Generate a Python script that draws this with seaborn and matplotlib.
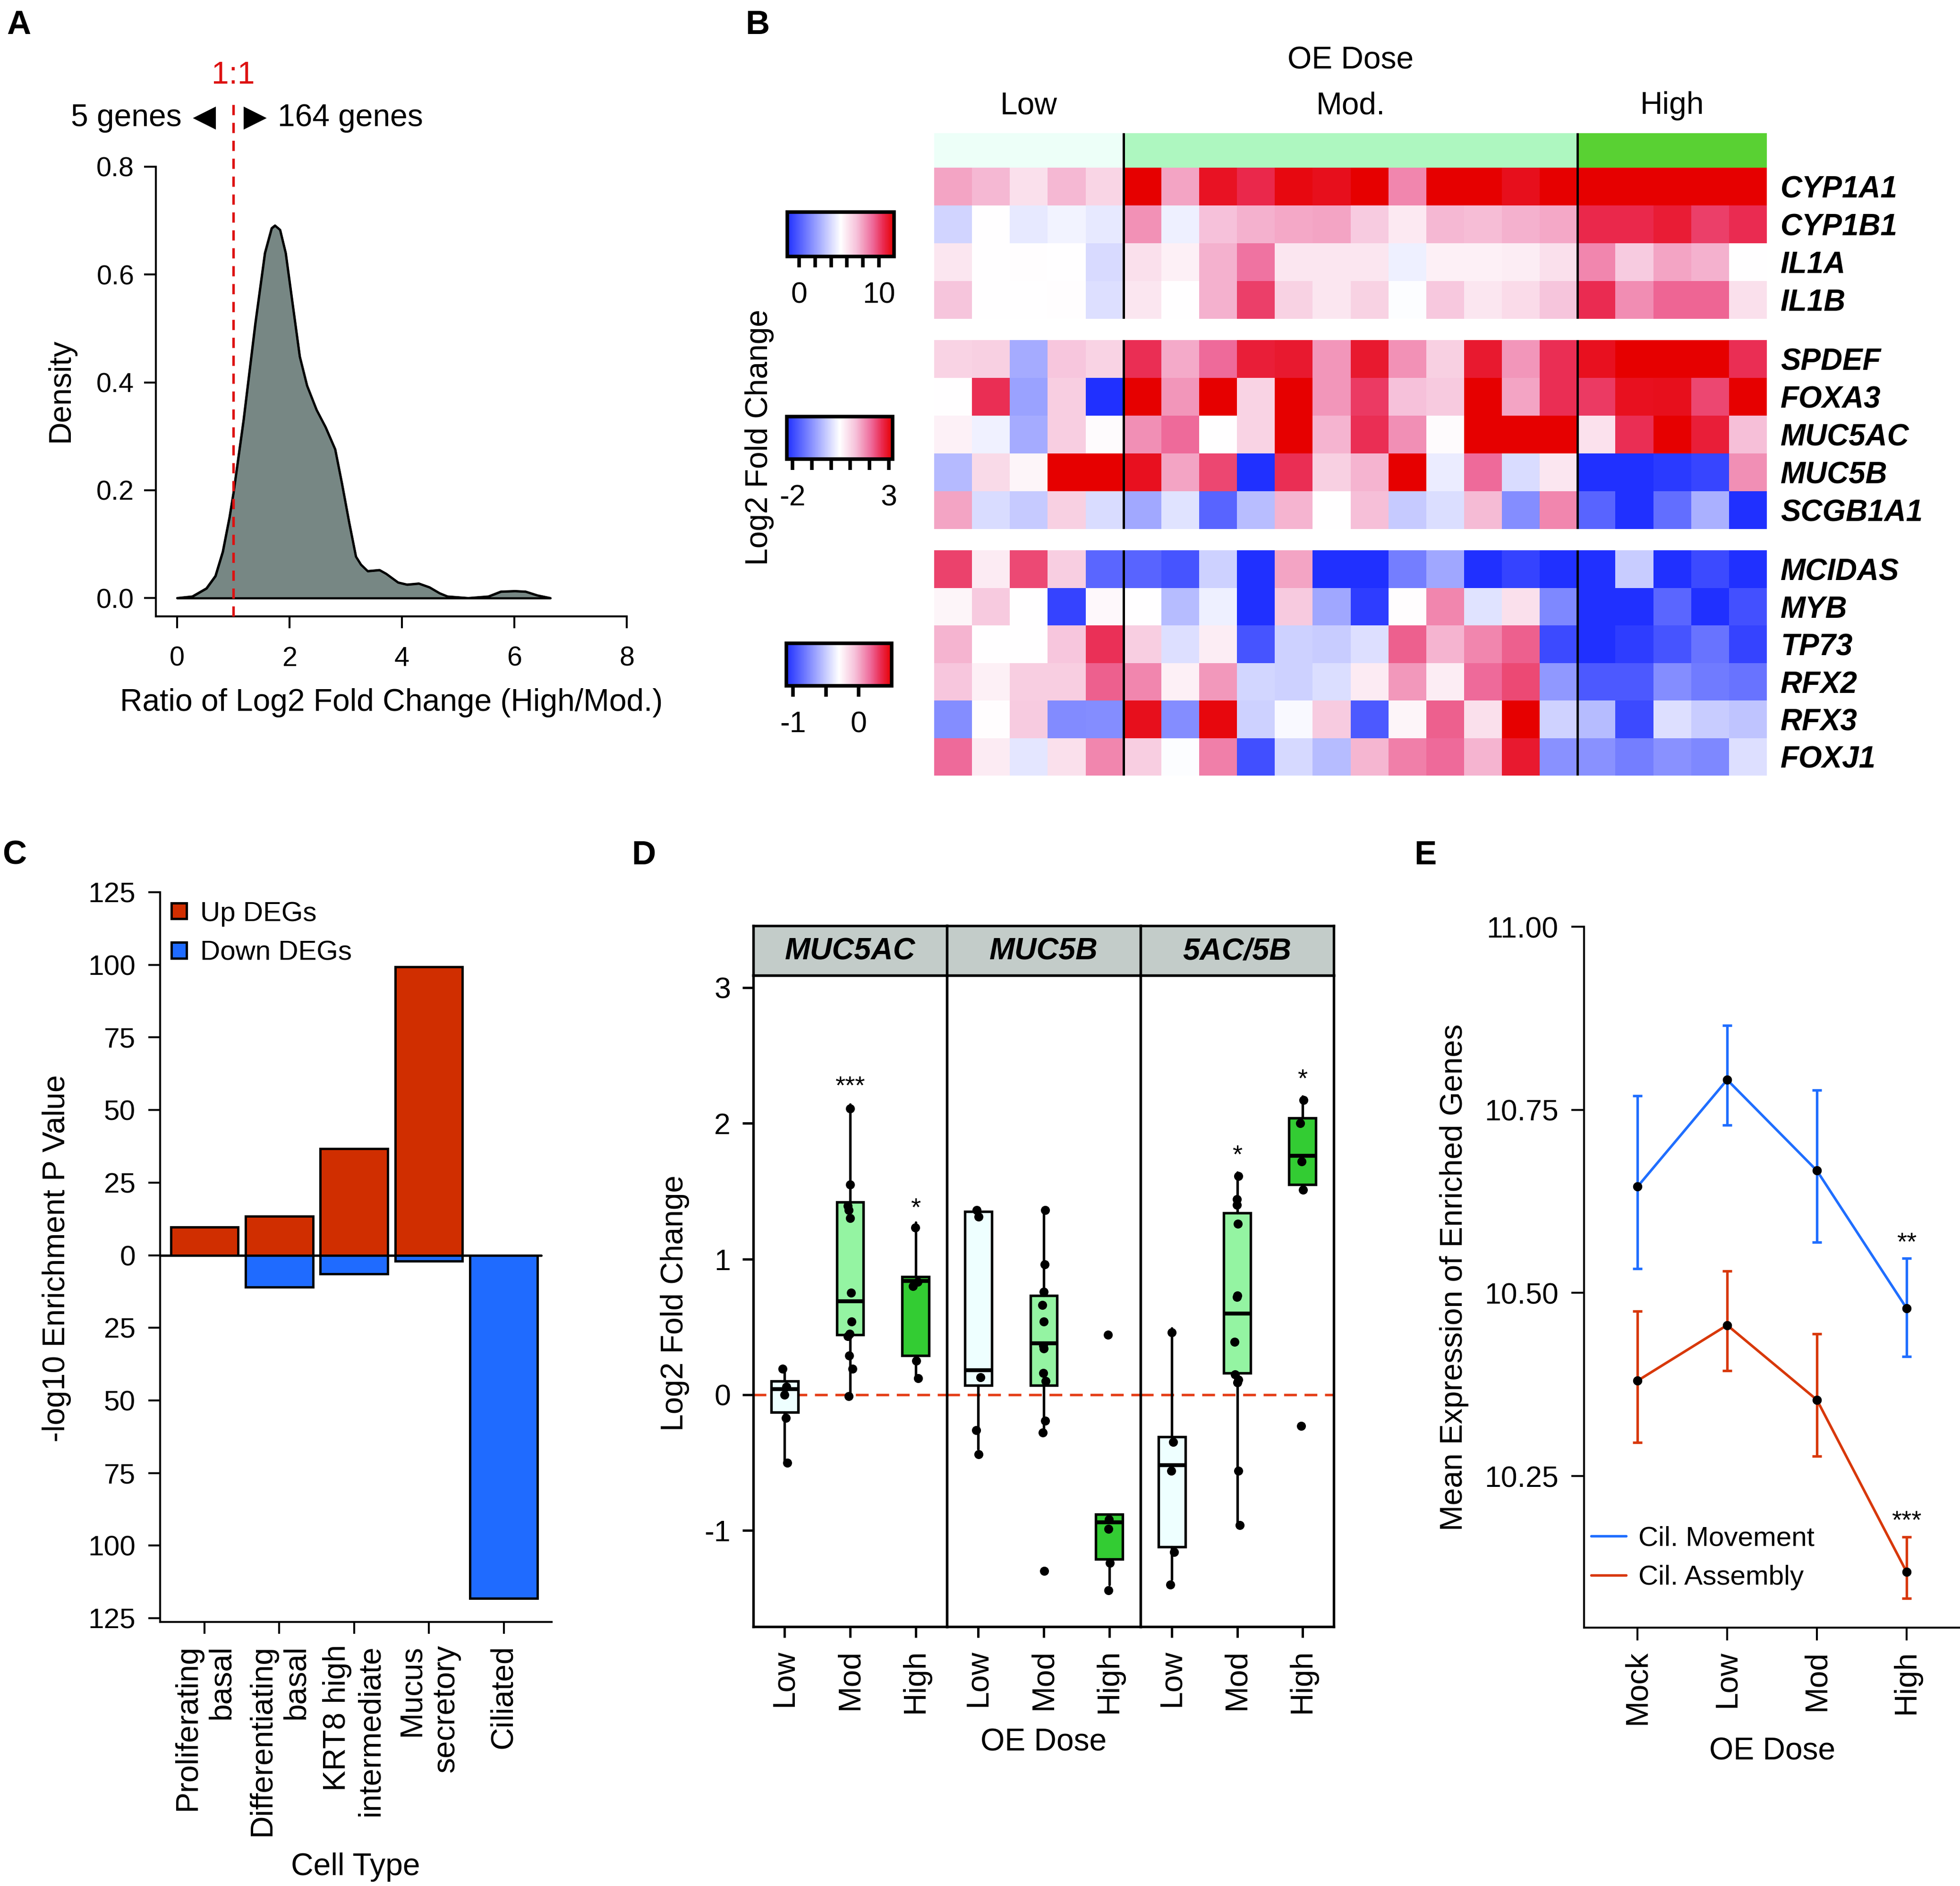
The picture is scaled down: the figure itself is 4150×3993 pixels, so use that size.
import numpy as np
import pandas as pd
import matplotlib
matplotlib.use("Agg")
import matplotlib.pyplot as plt
import seaborn as sns
from matplotlib.colors import LinearSegmentedColormap, ListedColormap

# ------------------------------------------------------------------ data
# Panel A : density of ratio of log2 fold change (High/Mod.)
ratio_x = [0.0, 0.27, 0.52, 0.68, 0.81, 0.93, 1.0, 1.18, 1.39, 1.56, 1.68, 1.74, 1.83,
           1.93, 2.06, 2.18, 2.31, 2.48, 2.64, 2.81, 2.93, 3.06, 3.18, 3.27, 3.39, 3.6,
           3.72, 3.93, 4.09, 4.3, 4.49, 4.67, 4.81, 5.18, 5.54, 5.76, 6.01, 6.2, 6.41, 6.64]
ratio_density = [0.0, 0.003, 0.018, 0.041, 0.086, 0.15, 0.195, 0.33, 0.51, 0.64, 0.686, 0.691,
                 0.683, 0.64, 0.54, 0.448, 0.394, 0.349, 0.317, 0.276, 0.213, 0.14, 0.077,
                 0.062, 0.05, 0.052, 0.045, 0.029, 0.025, 0.027, 0.02, 0.009, 0.003, 0.0,
                 0.003, 0.012, 0.013, 0.012, 0.005, 0.0]
n_below, n_above = 5, 164

# Panel B : heatmap
sample_dose = ["Low", "Low", "Low", "Low", "Low",
               "Mod", "Mod", "Mod", "Mod", "Mod", "Mod", "Mod", "Mod", "Mod", "Mod", "Mod", "Mod",
               "High", "High", "High", "High", "High"]
dose_colors = {"Low": "#EDFFF8", "Mod": "#AEF7C0", "High": "#59D133"}
genes_g1 = ["CYP1A1", "CYP1B1", "IL1A", "IL1B"]
lfc_g1 = [
    [7.9, 7.4, 6.2, 7.4, 6.6, 11.9, 7.9, 11.3, 10.6, 11.6, 11.4, 11.9, 8.6, 11.9, 11.9, 11.4, 11.9, 11.9, 11.9, 11.9, 11.9, 11.9],
    [3.8, 5.2, 4.5, 4.8, 4.5, 8.3, 4.7, 7.2, 7.6, 7.8, 7.9, 6.9, 5.9, 7.4, 7.3, 7.6, 7.8, 10.6, 10.6, 11.0, 10.1, 10.5],
    [6.0, 5.2, 5.3, 5.2, 4.0, 6.2, 5.7, 7.6, 9.0, 6.0, 6.0, 6.0, 4.7, 5.7, 5.7, 5.8, 6.2, 8.6, 6.9, 7.9, 7.6, 5.2],
    [7.1, 5.2, 5.2, 5.3, 4.2, 6.0, 5.2, 7.6, 10.1, 6.7, 6.0, 6.7, 5.1, 7.0, 6.0, 6.4, 7.1, 10.5, 8.4, 9.3, 9.3, 6.2],
]
genes_g2 = ["SPDEF", "FOXA3", "MUC5AC", "MUC5B", "SCGB1A1"]
lfc_g2 = [
    [1.05, 1.08, -0.65, 1.22, 1.05, 2.6, 1.5, 2.1, 2.8, 2.87, 1.69, 2.87, 1.72, 1.08, 2.87, 1.69, 2.6, 2.98, 3.2, 3.2, 3.2, 2.6],
    [0.45, 2.6, -0.79, 1.11, -2.3, 3.2, 1.69, 3.2, 1.05, 3.2, 1.69, 2.5, 1.28, 1.17, 3.2, 1.55, 2.6, 2.5, 2.98, 3.0, 2.4, 3.2],
    [0.64, 0.26, -0.65, 1.11, 0.5, 1.74, 2.1, 0.45, 1.05, 3.2, 1.41, 2.6, 1.74, 0.5, 3.2, 3.2, 3.2, 0.84, 2.6, 3.2, 2.8, 1.3],
    [-0.46, 0.95, 0.59, 3.2, 3.2, 2.98, 1.55, 2.4, -2.3, 2.6, 1.08, 1.41, 3.2, 0.2, 2.1, -0.02, 0.78, -2.3, -2.3, -2.16, -2.0, 1.74],
    [1.55, -0.02, -0.24, 1.08, -0.02, -0.7, 0.07, -1.61, -0.43, 1.41, 0.45, 1.3, -0.24, 0.01, 1.35, -1.06, 1.83, -1.61, -2.3, -1.48, -0.6, -2.3],
]
genes_g3 = ["MCIDAS", "MYB", "TP73", "RFX2", "RFX3", "FOXJ1"]
lfc_g3 = [
    [0.28, -0.22, 0.26, -0.11, -0.89, -0.9, -0.96, -0.48, -1.1, 0.02, -1.1, -1.1, -0.8, -0.64, -1.1, -1.02, -1.1, -1.1, -0.5, -1.1, -1.0, -1.1],
    [-0.26, -0.09, -0.3, -1.02, -0.27, -0.3, -0.56, -0.36, -1.1, -0.09, -0.64, -1.05, -0.29, 0.1, -0.41, -0.18, -0.76, -1.1, -1.1, -0.89, -1.1, -0.97],
    [-0.02, -0.3, -0.3, -0.08, 0.32, -0.11, -0.42, -0.23, -0.96, -0.48, -0.5, -0.42, 0.2, -0.02, 0.1, 0.2, -1.0, -1.1, -1.05, -0.96, -0.84, -1.02],
    [-0.08, -0.24, -0.11, -0.11, 0.2, 0.1, -0.24, 0.05, -0.46, -0.48, -0.43, -0.22, 0.05, -0.23, 0.18, 0.26, -0.7, -0.94, -0.94, -0.74, -0.81, -0.84],
    [-0.74, -0.29, -0.1, -0.75, -0.74, 0.44, -0.74, 0.47, -0.48, -0.32, -0.1, -0.94, -0.26, 0.2, -0.18, 0.5, -0.47, -0.56, -1.0, -0.42, -0.5, -0.53],
    [0.18, -0.22, -0.4, -0.18, 0.1, -0.11, -0.31, 0.12, -0.98, -0.45, -0.56, -0.03, 0.12, 0.18, -0.02, 0.4, -0.72, -0.72, -0.8, -0.72, -0.76, -0.42],
]
cbar_range_g1 = (-1.5, 11.9)
cbar_range_g2 = (-2.3, 3.2)
cbar_range_g3 = (-1.1, 0.5)
cbar_ticks_g1 = [0, 2, 4, 6, 8, 10]
cbar_ticks_g2 = [-2, -1, 0, 1, 2, 3]
cbar_ticks_g3 = [-1, -0.5, 0]
cbar_labels_g1 = ["0", "", "", "", "", "10"]
cbar_labels_g2 = ["-2", "", "", "", "", "3"]
cbar_labels_g3 = ["-1", "", "0"]

# Panel C : cell-type enrichment
cell_types = ["Proliferating\nbasal", "Differentiating\nbasal", "KRT8 high\nintermediate",
              "Mucus\nsecretory", "Ciliated"]
up_deg_score = [9.6, 13.5, 36.7, 99.3, 0.0]
down_deg_score = [0.0, 11.0, 6.5, 2.1, 118.2]

# Panel D : box plots (box stats + points)
facet_genes = ["MUC5AC", "MUC5B", "5AC/5B"]
dose_levels = ["Low", "Mod", "High"]
# box stats: [whisker_low, q1, median, q3, whisker_high] for Low, Mod, High
box_muc5ac = [[-0.50, -0.13, 0.04, 0.10, 0.20], [0.00, 0.44, 0.69, 1.42, 2.14], [0.12, 0.29, 0.84, 0.87, 1.27]]
box_muc5b = [[-0.40, 0.07, 0.18, 1.35, 1.38], [-0.28, 0.07, 0.38, 0.73, 1.38], [-1.40, -1.21, -0.94, -0.88, -0.88]]
box_ratio = [[-1.36, -1.12, -0.52, -0.31, 0.49], [-0.94, 0.16, 0.60, 1.34, 1.64], [1.55, 1.55, 1.76, 2.04, 2.20]]
pts_muc5ac = {"Low": [0.19, 0.06, 0.0, -0.17, -0.50],
              "Mod": [2.11, 1.55, 1.39, 1.36, 1.30, 0.75, 0.54, 0.45, 0.43, 0.29, 0.19, -0.01],
              "High": [1.23, 0.83, 0.80, 0.25, 0.12]}
pts_muc5b = {"Low": [1.36, 1.31, 0.13, -0.26, -0.44],
             "Mod": [1.36, 0.96, 0.76, 0.66, 0.54, 0.36, 0.34, 0.16, 0.10, -0.19, -0.28, -1.30],
             "High": [0.44, -0.92, -0.99, -1.24, -1.44]}
pts_ratio = {"Low": [0.46, -0.35, -0.56, -1.16, -1.40],
             "Mod": [1.61, 1.44, 1.40, 1.26, 0.73, 0.72, 0.39, 0.15, 0.11, 0.09, -0.56, -0.96],
             "High": [2.17, 2.00, 1.72, 1.51, -0.23]}
stars_muc5ac = [("Mod", 2.27, "***"), ("High", 1.37, "*")]
stars_muc5b = []
stars_ratio = [("Mod", 1.76, "*"), ("High", 2.32, "*")]
box_fill = {"Low": "#EEFFFF", "Mod": "#94F4A2", "High": "#33CC33"}

# Panel E : mean expression of enriched genes
doses_E = ["Mock", "Low", "Mod", "High"]
movement_mean = [10.645, 10.791, 10.667, 10.479]
movement_lo = [10.533, 10.729, 10.569, 10.413]
movement_hi = [10.769, 10.865, 10.777, 10.547]
assembly_mean = [10.380, 10.456, 10.354, 10.119]
assembly_lo = [10.296, 10.394, 10.277, 10.083]
assembly_hi = [10.475, 10.530, 10.444, 10.167]
stars_E = [("High", 10.568, "**"), ("High", 10.188, "***")]

# ------------------------------------------------------------------ style
sns.set_theme(style="ticks")
plt.rcParams.update({
    "font.family": ["Liberation Sans", "DejaVu Sans"],
    "axes.unicode_minus": False,
    "axes.linewidth": 1.0,
    "axes.edgecolor": "black",
    "xtick.color": "black", "ytick.color": "black",
    "xtick.major.width": 1.0, "ytick.major.width": 1.0,
    "text.color": "black", "axes.labelcolor": "black",
})

W, H = 4150, 3993
fig = plt.figure(figsize=(W / 300, H / 300), dpi=300)


def rect(x0, y0, x1, y1):
    return [x0 / W, 1 - y1 / H, (x1 - x0) / W, (y1 - y0) / H]


def fxy(x, y):
    return x / W, 1 - y / H


TICK = 14.5
LAB = 15.8

# panel letters
for letter, (px, py) in zip("ABCDE", [(14, 21), (1578, 21), (5, 1779), (1337, 1779), (2994, 1779)]):
    fig.text(*fxy(px, py), letter, fontsize=17, fontweight="bold", ha="left", va="top")

# ------------------------------------------------------------------ Panel A
axA = fig.add_axes(rect(330, 353, 1327, 1305))
axA.fill_between(ratio_x, ratio_density, 0, facecolor="#778784", edgecolor="black", lw=1.1, zorder=2)
sns.lineplot(x=ratio_x, y=ratio_density, ax=axA, color="black", lw=1.1, sort=False, zorder=3)
axA.set_xlim(-0.38, 8)
axA.set_ylim(-0.034, 0.8)
sns.despine(ax=axA)
axA.set_xticks([0, 2, 4, 6, 8])
axA.set_yticks([0, 0.2, 0.4, 0.6, 0.8])
axA.set_yticklabels(["0.0", "0.2", "0.4", "0.6", "0.8"])
axA.tick_params(axis="both", length=6, width=1, labelsize=13.8)
axA.tick_params(axis="x", pad=9)
axA.tick_params(axis="y", pad=5)
axA.set_xlabel("Ratio of Log2 Fold Change (High/Mod.)", fontsize=LAB)
axA.set_ylabel("Density", fontsize=LAB)
axA.xaxis.label.set_va("center")
axA.yaxis.label.set_va("center")
axA.xaxis.set_label_coords(0.50, -0.192)
axA.yaxis.set_label_coords(-0.2016, 0.503)
axA.plot([1, 1], [-0.034, 0.925], ls=(0, (4, 3)), color="#DD1111", lw=1.3, clip_on=False, zorder=4)
axA.text(1, 0.969, "1:1", color="#DD1111", ha="center", va="center", fontsize=LAB, clip_on=False)
axA.plot([0.49], [0.89], marker="<", ms=10, color="black", clip_on=False)
axA.plot([1.38], [0.89], marker=">", ms=10, color="black", clip_on=False)
axA.text(0.08, 0.89, f"{n_below} genes", ha="right", va="center", fontsize=LAB, clip_on=False)
axA.text(1.79, 0.89, f"{n_above} genes", ha="left", va="center", fontsize=LAB, clip_on=False)

# ------------------------------------------------------------------ Panel B
cmap = LinearSegmentedColormap.from_list(
    "bwr_pink", [(0.0, "#2030FF"), (0.5, "#FFFFFF"), (0.65, "#F6C2DA"),
                 (0.8, "#EE6A9A"), (0.9, "#EA2A50"), (1.0, "#E60000")])
HX0, HX1 = 1978, 3741
dose_order = ["Low", "Mod", "High"]
dose_codes = np.array([[dose_order.index(d) for d in sample_dose]])
axAnn = fig.add_axes(rect(HX0, 282, HX1, 355))
sns.heatmap(dose_codes, ax=axAnn, cmap=ListedColormap([dose_colors[d] for d in dose_order]),
            vmin=-0.5, vmax=2.5, cbar=False, xticklabels=False, yticklabels=False)
bounds = [sample_dose.count("Low"), sample_dose.count("Low") + sample_dose.count("Mod")]
for b in bounds:
    axAnn.axvline(b, color="black", lw=1.2)

n_samples = len(sample_dose)
lowc = (0 + bounds[0]) / 2
modc = (bounds[0] + bounds[1]) / 2
highc = (bounds[1] + n_samples) / 2
col_w = (HX1 - HX0) / n_samples
for c, lab in [(lowc, "Low"), (modc, "Mod."), (highc, "High")]:
    fig.text(*fxy(HX0 + c * col_w, 224), lab, ha="center", va="center", fontsize=LAB)
fig.text(*fxy(HX0 + modc * col_w, 128), "OE Dose", ha="center", va="center", fontsize=LAB)
fig.text(*fxy(1608, 926), "Log2 Fold Change", rotation=90, ha="center", va="center", fontsize=LAB)

groups = [
    (lfc_g1, genes_g1, (355, 675), cbar_range_g1, (1667, 449, 1893, 543), cbar_ticks_g1, cbar_labels_g1),
    (lfc_g2, genes_g2, (720, 1120), cbar_range_g2, (1666, 882, 1890, 972), cbar_ticks_g2, cbar_labels_g2),
    (lfc_g3, genes_g3, (1165, 1642), cbar_range_g3, (1665, 1362, 1888, 1452), cbar_ticks_g3, cbar_labels_g3),
]
for vals, genes, (y0, y1), (vmin, vmax), cbr, cticks, clabels in groups:
    ax = fig.add_axes(rect(HX0, y0, HX1, y1))
    cax = fig.add_axes(rect(*cbr))
    sns.heatmap(pd.DataFrame(vals, index=genes), ax=ax, cmap=cmap, vmin=vmin, vmax=vmax,
                cbar_ax=cax, cbar_kws=dict(orientation="horizontal", ticks=cticks),
                xticklabels=False, yticklabels=genes)
    ax.yaxis.tick_right()
    ax.set_yticklabels(genes, rotation=0, fontstyle="italic", fontweight="bold", fontsize=15.3)
    ax.tick_params(axis="y", length=0, pad=7)
    ax.set_ylabel("")
    for b in bounds:
        ax.axvline(b, color="black", lw=1.2)
    cb = ax.collections[0].colorbar
    cb.outline.set_linewidth(1.8)
    cb.outline.set_edgecolor("black")
    cax.set_xticks(cticks)
    cax.set_xticklabels(clabels)
    cax.tick_params(axis="x", length=5.5, width=1.8, labelsize=15, pad=7, direction="out")

# ------------------------------------------------------------------ Panel C
axC = fig.add_axes(rect(339, 1889, 1168, 3434))
dfC = pd.DataFrame({
    "cell": cell_types * 2,
    "score": up_deg_score + [-v for v in down_deg_score],
    "direction": ["Up DEGs"] * len(cell_types) + ["Down DEGs"] * len(cell_types),
})
sns.barplot(data=dfC, x="cell", y="score", hue="direction", dodge=False, width=0.9,
            palette={"Up DEGs": "#D02E00", "Down DEGs": "#1F6BFF"}, saturation=1,
            edgecolor="black", linewidth=1.2, errorbar=None, ax=axC)
xl = (-0.593, 4.64)
axC.set_xlim(*xl)
axC.set_ylim(-126.3, 125)
axC.axhline(0, xmin=0, xmax=(len(cell_types) - 0.5 - xl[0]) / (xl[1] - xl[0]), color="black", lw=1.2)
sns.despine(ax=axC)
yt = list(range(-125, 126, 25))
axC.set_yticks(yt)
axC.set_yticklabels([str(abs(t)) for t in yt])
axC.set_xticks(range(len(cell_types)))
axC.set_xticklabels(cell_types, rotation=90, ha="center", va="top", multialignment="right",
                    fontsize=LAB)
axC.tick_params(axis="both", length=6, width=1)
axC.tick_params(axis="y", labelsize=TICK, pad=6.5)
axC.tick_params(axis="x", pad=5.5)
axC.set_xlabel("Cell Type", fontsize=LAB)
axC.set_ylabel("-log10 Enrichment P Value", fontsize=LAB)
axC.xaxis.label.set_va("center")
axC.yaxis.label.set_va("center")
axC.xaxis.set_label_coords(0.4995, -0.336)
axC.yaxis.set_label_coords(-0.264, 0.498)
handles, labels = axC.get_legend_handles_labels()
axC.legend(handles, labels, loc="upper left", bbox_to_anchor=(0.029, 0.988), frameon=False,
           borderpad=0, borderaxespad=0, handlelength=0.55, handleheight=0.5, handletextpad=0.5,
           labelspacing=0.5, fontsize=14)

# ------------------------------------------------------------------ Panel D
facet_x = [1595, 2005, 2415, 2824]
boxes = [box_muc5ac, box_muc5b, box_ratio]
points = [pts_muc5ac, pts_muc5b, pts_ratio]
stars = [stars_muc5ac, stars_muc5b, stars_ratio]
np.random.seed(7)
axes_D = []
for i, gene in enumerate(facet_genes):
    ax = fig.add_axes(rect(facet_x[i], 2065, facet_x[i + 1], 3444))
    axes_D.append(ax)
    dfp = pd.DataFrame([(d, v) for d in dose_levels for v in points[i][d]], columns=["dose", "lfc"])
    stats = [dict(whislo=b[0], q1=b[1], med=b[2], q3=b[3], whishi=b[4], fliers=[]) for b in boxes[i]]
    bp = ax.bxp(stats, positions=range(len(dose_levels)), widths=0.41, patch_artist=True,
                showfliers=False, showcaps=False, manage_ticks=False,
                boxprops=dict(edgecolor="black", linewidth=1.3),
                whiskerprops=dict(color="black", linewidth=1.3),
                medianprops=dict(color="black", linewidth=2.0))
    for patch, d in zip(bp["boxes"], dose_levels):
        patch.set_facecolor(box_fill[d])
    sns.stripplot(data=dfp, x="dose", y="lfc", order=dose_levels, color="black", size=4.6,
                  jitter=0.04, ax=ax, zorder=6)
    ax.axhline(0, color="#E4401A", ls=(0, (5, 3)), lw=1.3, zorder=1)
    for d, yv, s in stars[i]:
        ax.text(dose_levels.index(d), yv, s, ha="center", va="center", fontsize=13)
    ax.set_xlim(-0.48, 2.48)
    ax.set_ylim(-1.709, 3.09)
    ax.set_xticks(range(len(dose_levels)))
    ax.set_xticklabels(dose_levels, rotation=90, fontsize=LAB)
    ax.tick_params(axis="x", length=5.5, width=1.2, pad=6)
    ax.set_yticks([-1, 0, 1, 2, 3])
    ax.set_yticklabels(["-1", "0", "1", "2", "3"])
    ax.tick_params(axis="y", length=5.5, width=1.2, labelsize=15, pad=6)
    if i > 0:
        ax.tick_params(axis="y", left=False, labelleft=False)
    for sp in ax.spines.values():
        sp.set_linewidth(1.3)
        sp.set_color("black")
    ax.set_xlabel("")
    ax.set_ylabel("")
    # facet strip
    axs = fig.add_axes(rect(facet_x[i], 1960, facet_x[i + 1], 2065))
    axs.set_facecolor("#C3CCC9")
    axs.set_xticks([])
    axs.set_yticks([])
    for sp in axs.spines.values():
        sp.set_linewidth(1.3)
        sp.set_color("black")
    axs.text(0.5, 0.48, gene, ha="center", va="center", fontsize=15.5, fontweight="bold",
             fontstyle="italic", transform=axs.transAxes)
axes_D[0].set_ylabel("Log2 Fold Change", fontsize=LAB)
axes_D[0].yaxis.label.set_va("center")
axes_D[0].yaxis.set_label_coords(-0.405, 0.497)
axes_D[1].set_xlabel("OE Dose", fontsize=LAB)
axes_D[1].xaxis.label.set_va("center")
axes_D[1].xaxis.set_label_coords(0.5, -0.178)

# ------------------------------------------------------------------ Panel E
axE = fig.add_axes(rect(3354, 1962, 4150, 3446))
posE = np.arange(len(doses_E))
blue, red = "#1F6EFF", "#D8380A"
for mean, lo, hi, col, lab in [(movement_mean, movement_lo, movement_hi, blue, "Cil. Movement"),
                               (assembly_mean, assembly_lo, assembly_hi, red, "Cil. Assembly")]:
    mean_a, lo_a, hi_a = np.array(mean), np.array(lo), np.array(hi)
    axE.errorbar(posE, mean_a, yerr=[mean_a - lo_a, hi_a - mean_a], fmt="none", ecolor=col,
                 elinewidth=1.3, capsize=2.4, capthick=1.3, zorder=2)
    sns.lineplot(x=posE, y=mean, ax=axE, color=col, lw=1.3, label=lab, sort=False, zorder=3)
    sns.scatterplot(x=posE, y=mean, ax=axE, color="black", s=22, linewidth=0, zorder=4, legend=False)
for d, yv, s in stars_E:
    axE.text(doses_E.index(d), yv, s, ha="center", va="center", fontsize=13)
axE.set_xlim(-0.595, 3.595)
axE.set_ylim(10.043, 11.0)
sns.despine(ax=axE)
axE.set_yticks([10.25, 10.5, 10.75, 11.0])
axE.set_yticklabels(["10.25", "10.50", "10.75", "11.00"])
axE.set_xticks(posE)
axE.set_xticklabels(doses_E, rotation=90, fontsize=LAB)
axE.tick_params(axis="both", length=6.5, width=1)
axE.tick_params(axis="y", labelsize=15, pad=6.5)
axE.tick_params(axis="x", pad=5)
axE.set_xlabel("OE Dose", fontsize=LAB)
axE.set_ylabel("Mean Expression of Enriched Genes", fontsize=LAB)
axE.xaxis.label.set_va("center")
axE.yaxis.label.set_va("center")
axE.xaxis.set_label_coords(0.501, -0.177)
axE.yaxis.set_label_coords(-0.345, 0.5)
axE.legend(loc="lower left", bbox_to_anchor=(0.019, 0.053), frameon=False, borderpad=0,
           borderaxespad=0, handlelength=1.26, handletextpad=0.45, labelspacing=0.5, fontsize=14)

fig.savefig("out.png", dpi=300)
